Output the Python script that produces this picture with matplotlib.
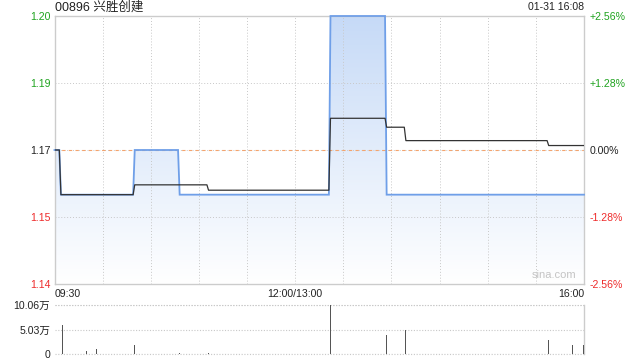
import numpy as np
import matplotlib
matplotlib.use('Agg')
import matplotlib.pyplot as plt
from matplotlib.colors import LinearSegmentedColormap

plt.rcParams['font.family'] = ['Liberation Sans', 'Noto Sans CJK SC', 'DejaVu Sans']

title = "00896 兴胜创建"
stamp = "01-31 16:08"
watermark = "sina.com"
base = 1.17
y_min, y_max = 1.14, 1.20
pct_ticks = [2.56, 1.28, 0.0, -1.28, -2.56]
pct_labels = ["+2.56%", "+1.28%", "0.00%", "-1.28%", "-2.56%"]
price_labels = ["1.20", "1.19", "1.17", "1.15", "1.14"]
tick_minutes = [0, 30, 60, 90, 120, 150, 180, 210, 240, 270, 300, 330]
time_labels = ["09:30", "", "", "", "", "12:00/13:00", "", "", "", "", "", "16:00"]

price_min = [0, 3, 4, 49, 50, 77, 78, 171, 172, 206, 207, 330]
price = [1.17, 1.17, 1.16, 1.16, 1.17, 1.17, 1.16, 1.16, 1.20, 1.20, 1.16, 1.16]
avg_min = [0, 3, 4, 49, 50, 95, 96, 171, 172, 206, 207, 218, 219, 307, 308, 330]
avg = [1.17, 1.17, 1.16, 1.16, 1.1622, 1.1622, 1.161, 1.161, 1.1771, 1.1771,
       1.1751, 1.1751, 1.1721, 1.1721, 1.1710, 1.1710]
vol_min = [5, 20, 26, 50, 78, 96, 172, 207, 219, 308, 323, 330]
vol = [5.95, 0.6, 0.95, 1.8, 0.15, 0.15, 10.06, 3.9, 5.0, 2.9, 1.85, 1.85]
vol_ticks = [0, 5.03, 10.06]
vol_labels = ["0", "5.03万", "10.06万"]

GREEN = '#1fa31f'
RED = '#ee2b2b'
DARK = '#222222'
SPINE = '#cccccc'
GRID = '#c8c8c8'

fig = plt.figure(figsize=(6.4, 3.6), dpi=100)
W, H = 640, 360
L, R = 54.5, 584
ax = fig.add_axes([L / W, 1 - 284 / H, (R - L) / W, (284 - 16) / H])
axv = fig.add_axes([L / W, 1 - 354 / H, (R - L) / W, (354 - 305) / H])

ylo, yhi = y_min, y_max
tick_vals = list(np.linspace(yhi, ylo, len(pct_ticks)))

# gradient fill under price
poly = ax.fill_between(price_min, price, ylo, facecolor='none', edgecolor='none')
grad = np.linspace(1, 0, 256).reshape(-1, 1)
cmap = LinearSegmentedColormap.from_list('g', ['#ffffff', '#c6daf7'])
im = ax.imshow(grad, cmap=cmap, aspect='auto', extent=[0, 330, ylo, yhi],
               origin='upper', zorder=1, interpolation='bilinear')
im.set_clip_path(poly.get_paths()[0], transform=ax.transData)

ax.plot(price_min, price, color='#6f9fe8', lw=1.3, zorder=3, solid_joinstyle='miter',
        clip_on=False)
ax.plot(avg_min, avg, color='#333333', lw=0.9, zorder=4)
ax.axhline(base, color='#f4a46e', lw=0.8, dashes=(3, 3), zorder=2.6)

ax.set_xlim(0, 330)
ax.set_ylim(ylo, yhi)
ax.set_xticks(tick_minutes)
ax.set_xticklabels(time_labels)
labs = ax.get_xticklabels()
labs[0].set_ha('left')
labs[-1].set_ha('right')
ax.set_yticks(tick_vals)
ax.set_yticklabels(price_labels)
ax.tick_params(axis='both', length=0, labelsize=7.6, colors=DARK)
ax.tick_params(axis='y', pad=2.5)
ax.tick_params(axis='x', pad=3.5)
for lab, p in zip(ax.get_yticklabels(), pct_ticks):
    lab.set_color(GREEN if p > 0 else (RED if p < 0 else DARK))
ax.grid(True, color=GRID, lw=0.7, linestyle=(0, (1, 2)))
ax.set_axisbelow(False)
for s in ax.spines.values():
    s.set_color(SPINE)
    s.set_linewidth(1)
    s.set_zorder(2.7)

ax2 = ax.twinx()
ax2.set_ylim(ylo, yhi)
ax2.set_yticks(tick_vals)
ax2.set_yticklabels(pct_labels)
ax2.tick_params(axis='y', length=0, labelsize=7.6, pad=4.3)
for lab, p in zip(ax2.get_yticklabels(), pct_ticks):
    lab.set_color(GREEN if p > 0 else (RED if p < 0 else DARK))
for s in ax2.spines.values():
    s.set_visible(False)

ax.text(0.985, 0.035, watermark, transform=ax.transAxes, ha='right', va='center',
        fontsize=8, color='#c4c4c4', zorder=6)

# volume
axv.bar(vol_min, vol, width=0.7, color='#555555', linewidth=0, zorder=3)
axv.set_xlim(0, 330)
axv.set_ylim(0, 10.06)
axv.set_yticks(vol_ticks)
axv.set_yticklabels(vol_labels)
axv.set_xticks([])
axv.tick_params(axis='y', length=0, labelsize=7.6, colors=DARK, pad=3.2)
axv.grid(True, axis='y', color=GRID, lw=0.8, linestyle=(0, (1, 1.5)))
for k, s in axv.spines.items():
    if k == 'right':
        s.set_color(SPINE)
        s.set_linewidth(1)
    else:
        s.set_visible(False)
for yv in (0, 10.06):
    axv.axhline(yv, color=GRID, lw=0.8, linestyle=(0, (1, 1.5)), clip_on=False)

fig.text(55 / W, 1 - 7.5 / H, title, ha='left', va='center', fontsize=9, color=DARK)
fig.text(584 / W, 1 - 7.5 / H, stamp, ha='right', va='center', fontsize=7.6, color=DARK)

fig.savefig('out.png', dpi=100)
